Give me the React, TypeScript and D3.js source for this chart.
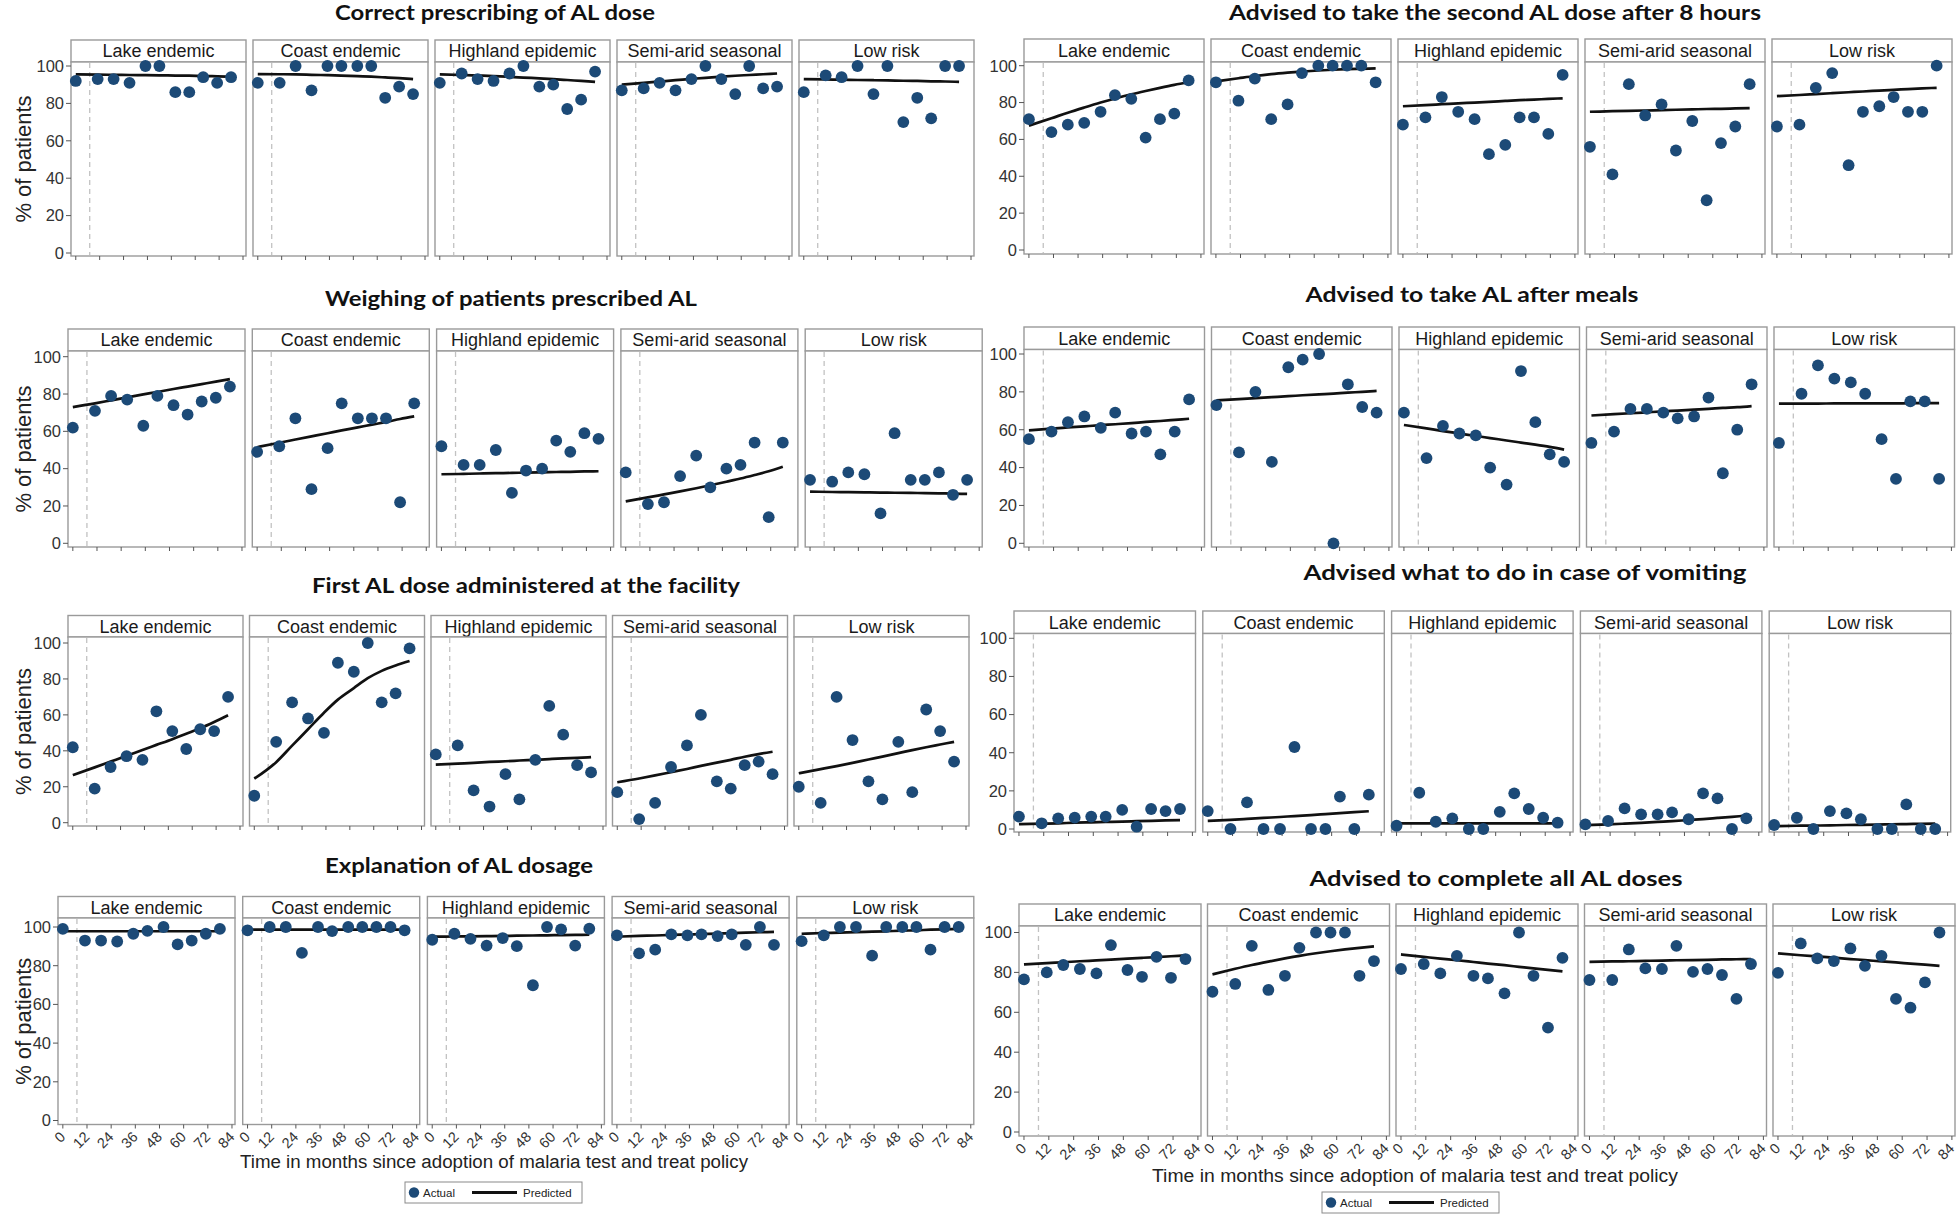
import React from "react";
import * as d3 from "d3";

// ---------- data ----------
const months = [0, 11, 19, 27, 35, 42, 50, 57, 64, 71, 78];
const regions = ["Lake endemic", "Coast endemic", "Highland epidemic", "Semi-arid seasonal", "Low risk"];
const xTicks = [0, 12, 24, 36, 48, 60, 72, 84];
const yTicks = [0, 20, 40, 60, 80, 100];
const policyMonth = 7;
const xAxisTitle = "Time in months since adoption of malaria test and treat policy";
const yAxisTitle = "% of patients";
const legendLabels = ["Actual", "Predicted"];

const titles = [
  "Correct prescribing of AL dose",
  "Advised to take the second AL dose after 8 hours",
  "Weighing of patients prescribed AL",
  "Advised to take AL after meals",
  "First AL dose administered at the facility",
  "Advised what to do in case of vomiting",
  "Explanation of AL dosage",
  "Advised to complete all AL doses",
];

// Correct prescribing of AL dose
const correctDoseActual = [
  [92, 93, 93, 91, 100, 100, 86, 86, 94, 91, 94],
  [91, 91, 100, 87, 100, 100, 100, 100, 83, 89, 85],
  [91, 96, 93, 92, 96, 100, 89, 90, 77, 82, 97],
  [87, 88, 91, 87, 93, 100, 93, 85, 100, 88, 89],
  [86, 95, 94, 100, 85, 100, 70, 83, 72, 100, 100],
];
const correctDosePredicted = [
  [95.5, 95.4, 95.3, 95.2, 95.1, 95, 94.9, 94.8, 94.6, 94.5, 94.3],
  [95.7, 95.6, 95.5, 95.3, 95.1, 94.9, 94.6, 94.3, 93.9, 93.5, 93],
  [95.5, 95.2, 94.9, 94.6, 94.2, 93.8, 93.4, 93, 92.5, 92, 91.5],
  [90, 91, 91.7, 92.4, 93.1, 93.7, 94.3, 94.8, 95.2, 95.6, 96],
  [93, 92.8, 92.7, 92.5, 92.4, 92.3, 92.1, 92, 91.8, 91.7, 91.5],
];

// Advised to take the second AL dose after 8 hours
const secondDoseActual = [
  [71, 64, 68, 69, 75, 84, 82, 61, 71, 74, 92],
  [91, 81, 93, 71, 79, 96, 100, 100, 100, 100, 91],
  [68, 72, 83, 75, 71, 52, 57, 72, 72, 63, 95],
  [56, 41, 90, 73, 79, 54, 70, 27, 58, 67, 90],
  [67, 68, 88, 96, 46, 75, 78, 83, 75, 75, 100],
];
const secondDosePredicted = [
  [67.5, 71.5, 74.5, 77.3, 80, 82.2, 84.5, 86.3, 88, 89.6, 91],
  [91.5, 93.2, 94.4, 95.4, 96.2, 96.8, 97.4, 97.8, 98.1, 98.3, 98.5],
  [78, 78.6, 79.1, 79.6, 80, 80.4, 80.9, 81.3, 81.6, 82, 82.3],
  [75, 75.3, 75.5, 75.7, 75.9, 76.1, 76.3, 76.5, 76.6, 76.8, 77],
  [83.5, 84.1, 84.6, 85.1, 85.6, 86, 86.5, 86.9, 87.3, 87.7, 88],
];

// Weighing of patients prescribed AL
const weighingActual = [
  [62, 71, 79, 77, 63, 79, 74, 69, 76, 78, 84],
  [49, 52, 67, 29, 51, 75, 67, 67, 67, 22, 75],
  [52, 42, 42, 50, 27, 39, 40, 55, 49, 59, 56],
  [38, 21, 22, 36, 47, 30, 40, 42, 54, 14, 54],
  [34, 33, 38, 37, 16, 59, 34, 34, 38, 26, 34],
];
const weighingPredicted = [
  [73, 75, 76.6, 78.2, 79.8, 81.1, 82.7, 84, 85.3, 86.6, 88],
  [51.5, 53.9, 55.6, 57.3, 59, 60.5, 62.1, 63.6, 65, 66.6, 68],
  [37, 37.2, 37.4, 37.6, 37.7, 37.9, 38, 38.2, 38.3, 38.5, 38.6],
  [22.5, 24.6, 26.2, 27.8, 29.5, 31.1, 33, 34.7, 36.6, 38.6, 41],
  [27.7, 27.5, 27.4, 27.3, 27.2, 27.1, 27, 26.9, 26.8, 26.6, 26.5],
];

// Advised to take AL after meals
const afterMealsActual = [
  [55, 59, 64, 67, 61, 69, 58, 59, 47, 59, 76],
  [73, 48, 80, 43, 93, 97, 100, 0, 84, 72, 69],
  [69, 45, 62, 58, 57, 40, 31, 91, 64, 47, 43],
  [53, 59, 71, 71, 69, 66, 67, 77, 37, 60, 84],
  [53, 79, 94, 87, 85, 79, 55, 34, 75, 75, 34],
];
const afterMealsPredicted = [
  [59.7, 60.6, 61.2, 61.8, 62.4, 62.9, 63.5, 64.1, 64.6, 65.2, 65.8],
  [75.5, 76.2, 76.7, 77.2, 77.7, 78.2, 78.7, 79.1, 79.6, 80, 80.5],
  [62.5, 60.7, 59.3, 58, 56.7, 55.6, 54.3, 53.2, 52.1, 50.9, 49.5],
  [67.5, 68.2, 68.7, 69.2, 69.7, 70.1, 70.6, 71, 71.5, 71.9, 72.5],
  [73.8, 73.8, 73.8, 73.9, 73.9, 73.9, 73.9, 73.9, 74, 74, 74],
];

// First AL dose administered at the facility
const firstDoseActual = [
  [42, 19, 31, 37, 35, 62, 51, 41, 52, 51, 70],
  [15, 45, 67, 58, 50, 89, 84, 100, 67, 72, 97],
  [38, 43, 18, 9, 27, 13, 35, 65, 49, 32, 28],
  [17, 2, 11, 31, 43, 60, 23, 19, 32, 34, 27],
  [20, 11, 70, 46, 23, 13, 45, 17, 63, 51, 34],
];
const firstDosePredicted = [
  [26.5, 30.8, 34, 37.2, 40.5, 43.3, 46.5, 49.5, 52.5, 56, 59.8],
  [24.5, 33.7, 42.9, 52, 61.2, 68.5, 74.9, 80.4, 84.5, 87.5, 90],
  [32.3, 32.9, 33.3, 33.8, 34.2, 34.6, 35, 35.4, 35.8, 36.1, 36.5],
  [22.5, 24.6, 26.3, 28.1, 29.9, 31.6, 33.4, 35, 36.7, 38.2, 39.5],
  [27.5, 29.8, 31.5, 33.3, 35.2, 36.8, 38.7, 40.4, 42, 43.5, 45],
];

// Advised what to do in case of vomiting
const vomitingActual = [
  [6.5, 3, 5.6, 6, 6.5, 6.5, 10, 1.2, 10.5, 9.4, 10.5],
  [9.4, 0, 14, 0, 0, 43, 0, 0, 17, 0, 18],
  [1.7, 19, 3.8, 5.6, 0, 0, 9, 18.7, 10.5, 5.9, 3.3],
  [2.4, 4.2, 10.8, 7.7, 7.7, 8.7, 5.1, 18.7, 16.1, 0, 5.6],
  [2.1, 5.9, 0, 9.4, 8.2, 5.1, 0, 0, 12.9, 0, 0],
];
const vomitingPredicted = [
  [2.5, 2.8, 3, 3.3, 3.5, 3.7, 3.9, 4.1, 4.3, 4.5, 4.7],
  [4.3, 4.8, 5.3, 5.8, 6.3, 6.8, 7.3, 7.8, 8.3, 8.8, 9.3],
  [3, 3, 3, 3, 3, 3, 3, 3, 3, 3, 3],
  [2, 2.4, 2.8, 3.2, 3.7, 4.1, 4.7, 5.2, 5.8, 6.4, 7],
  [1.5, 1.7, 1.8, 1.9, 2.1, 2.2, 2.3, 2.5, 2.6, 2.7, 2.8],
];

// Explanation of AL dosage
const dosageActual = [
  [99, 93, 93, 92.5, 96.5, 98, 100, 91, 93, 96.5, 99],
  [98.3, 100, 100, 86.6, 100, 97.9, 100, 100, 100, 100, 98.3],
  [93.4, 96.5, 93.9, 90.4, 94.3, 90.1, 69.9, 100, 98.8, 90.4, 99.1],
  [95.7, 86.4, 88.3, 96.2, 95.7, 96.2, 95.3, 96.2, 90.8, 100, 90.8],
  [92.7, 95.7, 100, 100, 85.2, 100, 100, 100, 88.3, 100, 100],
];
const dosagePredicted = [
  [97.8, 97.8, 97.8, 97.8, 97.8, 97.8, 97.8, 97.8, 97.8, 97.8, 97.8],
  [98.6, 98.6, 98.6, 98.6, 98.6, 98.6, 98.6, 98.6, 98.6, 98.6, 98.6],
  [95, 95.1, 95.2, 95.3, 95.4, 95.5, 95.6, 95.7, 95.8, 95.9, 96],
  [95, 95.4, 95.6, 95.9, 96.1, 96.3, 96.6, 96.8, 97.1, 97.3, 97.5],
  [96.5, 96.9, 97.1, 97.4, 97.6, 97.8, 98.1, 98.3, 98.6, 98.8, 99],
];

// Advised to complete all AL doses
const completeActual = [
  [76.5, 80, 83.7, 81.7, 79.5, 93.7, 81.2, 77.8, 87.8, 77.3, 86.7],
  [70.3, 74.2, 93.3, 71.2, 78.3, 92.3, 100, 100, 100, 78.3, 85.7],
  [81.7, 84.2, 79.5, 88.3, 78.3, 77, 69.5, 100, 78.3, 52.3, 87.3],
  [76.2, 76.2, 91.5, 82, 81.7, 93.3, 80.3, 81.7, 78.7, 66.7, 84.2],
  [79.8, 94.5, 87, 85.7, 92, 83.3, 88.3, 66.7, 62.3, 75, 100],
];
const completePredicted = [
  [84, 84.6, 85.1, 85.6, 86, 86.4, 86.9, 87.3, 87.7, 88.1, 88.5],
  [79, 81.8, 83.7, 85.4, 87, 88.3, 89.6, 90.6, 91.5, 92.3, 93],
  [89, 87.8, 86.9, 86.1, 85.2, 84.4, 83.6, 82.8, 82, 81.3, 80.5],
  [85.3, 85.5, 85.6, 85.8, 85.9, 86.1, 86.2, 86.3, 86.5, 86.6, 86.7],
  [89.5, 88.6, 88, 87.4, 86.7, 86.2, 85.5, 85, 84.4, 83.9, 83.3],
];

const actualSets = [correctDoseActual, secondDoseActual, weighingActual, afterMealsActual, firstDoseActual, vomitingActual, dosageActual, completeActual];
const predictedSets = [correctDosePredicted, secondDosePredicted, weighingPredicted, afterMealsPredicted, firstDosePredicted, vomitingPredicted, dosagePredicted, completePredicted];

// ---------- layout (pixel geometry of each small-multiple block) ----------
type Layout = {
  titleX: number; titleY: number; titleW: number;
  x0: number; fw: number; gap: number;
  stripTop: number; stripBot: number; panelBot: number;
  y0: number; y100: number; yTitle: boolean; xLabels: boolean;
};
const layouts: Layout[] = [
  { titleX: 495, titleY: 13, titleW: 320, x0: 71, fw: 175, gap: 7, stripTop: 40, stripBot: 62, panelBot: 256, y0: 253, y100: 66, yTitle: true, xLabels: false },
  { titleX: 1495, titleY: 13, titleW: 532, x0: 1024, fw: 180, gap: 7, stripTop: 39, stripBot: 62, panelBot: 254, y0: 250, y100: 65.7, yTitle: false, xLabels: false },
  { titleX: 511, titleY: 299, titleW: 372, x0: 68, fw: 177, gap: 7.3, stripTop: 329, stripBot: 351, panelBot: 547, y0: 543.3, y100: 356.7, yTitle: true, xLabels: false },
  { titleX: 1472, titleY: 295, titleW: 333, x0: 1024, fw: 180.5, gap: 7, stripTop: 327, stripBot: 349.5, panelBot: 547, y0: 543.3, y100: 354, yTitle: false, xLabels: false },
  { titleX: 526, titleY: 586, titleW: 428, x0: 68, fw: 175, gap: 6.5, stripTop: 615.5, stripBot: 637, panelBot: 826, y0: 822.7, y100: 643, yTitle: true, xLabels: false },
  { titleX: 1525, titleY: 573, titleW: 443, x0: 1014, fw: 181.5, gap: 7.3, stripTop: 611, stripBot: 633.5, panelBot: 832, y0: 829, y100: 638.3, yTitle: false, xLabels: false },
  { titleX: 459, titleY: 866, titleW: 268, x0: 58, fw: 177, gap: 7.7, stripTop: 896.5, stripBot: 918, panelBot: 1124.5, y0: 1120.5, y100: 927, yTitle: true, xLabels: true },
  { titleX: 1496, titleY: 879, titleW: 373, x0: 1019, fw: 182, gap: 6.5, stripTop: 904, stripBot: 926, panelBot: 1136, y0: 1132, y100: 932.5, yTitle: false, xLabels: true },
];

const SANS = "'Liberation Sans', Arial, Helvetica, sans-serif";
const TITLE_FONT = "Lato, 'Open Sans', sans-serif";
const POINT = "#1c4a77";
const BORDER = "#9a9a9a";

function Facet({ L, gi, ri }: { L: Layout; gi: number; ri: number }) {
  const fx = L.x0 + ri * (L.fw + L.gap);
  const x = d3.scaleLinear().domain([-2.4, 85.5]).range([fx, fx + L.fw]);
  const y = d3.scaleLinear().domain([0, 100]).range([L.y0, L.y100]);
  const actual = actualSets[gi][ri];
  const pred = predictedSets[gi][ri];
  const line = d3
    .line<number>()
    .x((_, i) => x(months[i]))
    .y((d) => y(d))
    .curve(d3.curveMonotoneX);
  return (
    <g>
      <rect x={fx} y={L.stripTop} width={L.fw} height={L.stripBot - L.stripTop} fill="#ffffff" stroke={BORDER} strokeWidth={1.4} />
      <text x={fx + L.fw / 2} y={(L.stripTop + L.stripBot) / 2 + 6.3} textAnchor="middle" fontFamily={SANS} fontSize={18} fill="#1a1a1a">
        {regions[ri]}
      </text>
      <rect x={fx} y={L.stripBot} width={L.fw} height={L.panelBot - L.stripBot} fill="#ffffff" stroke={BORDER} strokeWidth={1.4} />
      <line x1={x(policyMonth)} x2={x(policyMonth)} y1={L.stripBot + 1} y2={L.panelBot - 1} stroke="#c2c2c2" strokeWidth={1.3} strokeDasharray="5,4" />
      {xTicks.map((t) => (
        <line key={"xt" + t} x1={x(t)} x2={x(t)} y1={L.panelBot} y2={L.panelBot + 4} stroke="#555" strokeWidth={1} />
      ))}
      {L.xLabels &&
        xTicks.map((t) => (
          <text
            key={"xl" + t}
            transform={`translate(${x(t) - 4},${L.panelBot + 6}) rotate(-45)`}
            textAnchor="end"
            dominantBaseline="hanging"
            fontFamily={SANS}
            fontSize={14.5}
            fill="#333"
          >
            {t}
          </text>
        ))}
      <path d={line(pred) || ""} fill="none" stroke="#111" strokeWidth={2.7} />
      {actual.map((v, i) => (
        <circle key={i} cx={x(months[i])} cy={y(v)} r={5.9} fill={POINT} />
      ))}
      {ri === 0 && (
        <g>
          {yTicks.map((t) => (
            <g key={"yt" + t}>
              <line x1={fx - 5} x2={fx} y1={y(t)} y2={y(t)} stroke="#555" strokeWidth={1} />
              <text x={fx - 7} y={y(t) + 5.8} textAnchor="end" fontFamily={SANS} fontSize={16.5} fill="#333">
                {t}
              </text>
            </g>
          ))}
        </g>
      )}
    </g>
  );
}

function Legend({ x, y }: { x: number; y: number }) {
  const cy = y + 10.5;
  return (
    <g>
      <rect x={x} y={y} width={177} height={21} fill="#fff" stroke="#8a8a8a" strokeWidth={1} />
      <circle cx={x + 9} cy={cy} r={5.2} fill={POINT} />
      <text x={x + 18} y={cy + 4} fontFamily={SANS} fontSize={11.5} fill="#222">{legendLabels[0]}</text>
      <line x1={x + 67} x2={x + 112} y1={cy} y2={cy} stroke="#111" strokeWidth={3} />
      <text x={x + 118} y={cy + 4} fontFamily={SANS} fontSize={11.5} fill="#222">{legendLabels[1]}</text>
    </g>
  );
}

export default function App() {
  return (
    <svg width={1959} height={1216} style={{ position: "absolute", left: 0, top: 0 }} xmlns="http://www.w3.org/2000/svg">
      <rect x={0} y={0} width={1959} height={1216} fill="#ffffff" />
      {layouts.map((L, gi) => (
        <g key={gi}>
          <text
            x={L.titleX}
            y={L.titleY + 7}
            textAnchor="middle"
            fontFamily={TITLE_FONT}
            fontWeight={700}
            fontSize={21}
            fill="#111"
            textLength={L.titleW}
            lengthAdjust="spacingAndGlyphs"
          >
            {titles[gi]}
          </text>
          {regions.map((_, ri) => (
            <Facet key={ri} L={L} gi={gi} ri={ri} />
          ))}
          {L.yTitle && (
            <text
              transform={`translate(31,${(L.stripBot + L.panelBot) / 2}) rotate(-90)`}
              textAnchor="middle"
              fontFamily={SANS}
              fontSize={22}
              fill="#222"
            >
              {yAxisTitle}
            </text>
          )}
        </g>
      ))}
      <text x={494} y={1168} textAnchor="middle" fontFamily={SANS} fontSize={18} fill="#222" textLength={508} lengthAdjust="spacingAndGlyphs">
        {xAxisTitle}
      </text>
      <text x={1415} y={1182} textAnchor="middle" fontFamily={SANS} fontSize={18} fill="#222" textLength={526} lengthAdjust="spacingAndGlyphs">
        {xAxisTitle}
      </text>
      <Legend x={405} y={1182} />
      <Legend x={1322} y={1192} />
    </svg>
  );
}
